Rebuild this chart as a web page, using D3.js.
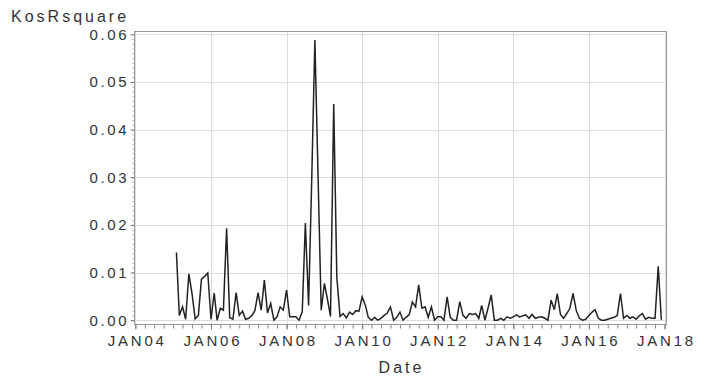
<!DOCTYPE html>
<html>
<head>
<meta charset="utf-8">
<script src="https://cdn.jsdelivr.net/npm/d3@7"></script>
<style>
  body { margin: 0; background: #fff; }
  text { font-family: "Liberation Sans", Arial, sans-serif; fill: #333; }
</style>
</head>
<body>
<div id="chart"></div>
<script>
// monthly series, Feb 2005 .. Dec 2017
const startMonth = "2005-02";
const kosRsquare = [
  0.0142, 0.0010, 0.0028, 0.0002, 0.0097, 0.0057, 0.0003, 0.0010, 0.0086, 0.0092, 0.0099,
  0.0002, 0.0057, 0.0000, 0.0025, 0.0021, 0.0193, 0.0005, 0.0002, 0.0058, 0.0010, 0.0019, 0.0002,
  0.0004, 0.0010, 0.0020, 0.0058, 0.0021, 0.0084, 0.0015, 0.0035, 0.0000, 0.0007, 0.0028, 0.0021,
  0.0063, 0.0007, 0.0007, 0.0007, 0.0000, 0.0018, 0.0204, 0.0031, 0.0300, 0.0588, 0.0300, 0.0021,
  0.0077, 0.0042, 0.0008, 0.0454, 0.0090, 0.0008, 0.0014, 0.0005, 0.0017, 0.0012, 0.0020, 0.0019,
  0.0049, 0.0031, 0.0006, 0.0000, 0.0006, 0.0000, 0.0004, 0.0010, 0.0015, 0.0028, 0.0000, 0.0006,
  0.0017, 0.0000, 0.0006, 0.0012, 0.0038, 0.0028, 0.0074, 0.0025, 0.0028, 0.0006, 0.0028, 0.0000,
  0.0007, 0.0007, 0.0000, 0.0049, 0.0006, 0.0000, 0.0000, 0.0039, 0.0010, 0.0004, 0.0014, 0.0012,
  0.0014, 0.0004, 0.0031, 0.0000, 0.0025, 0.0053, 0.0000, 0.0000, 0.0004, 0.0000, 0.0007, 0.0004,
  0.0007, 0.0011, 0.0007, 0.0009, 0.0011, 0.0004, 0.0012, 0.0004, 0.0006, 0.0007, 0.0004, 0.0000,
  0.0042, 0.0022, 0.0056, 0.0012, 0.0004, 0.0014, 0.0025, 0.0056, 0.0020, 0.0004, 0.0000, 0.0002,
  0.0010, 0.0017, 0.0022, 0.0004, 0.0000, 0.0000, 0.0002, 0.0004, 0.0006, 0.0010, 0.0056, 0.0004,
  0.0010, 0.0004, 0.0007, 0.0002, 0.0009, 0.0014, 0.0002, 0.0006, 0.0004, 0.0004, 0.0113, 0.0001
];
const yTicks = [0, 0.01, 0.02, 0.03, 0.04, 0.05, 0.06];
const yLabel = "KosRsquare";
const xLabel = "Date";

const parseMonth = d3.timeParse("%Y-%m");
const t0 = parseMonth(startMonth);
const data = kosRsquare.map((v, i) => ({ date: d3.timeMonth.offset(t0, i), value: v }));

const W = 705, H = 379;
const plot = { left: 134, right: 666, top: 31, bottom: 324 };

const svg = d3.select("#chart").append("svg")
  .attr("width", W).attr("height", H);

const x = d3.scaleTime()
  .domain([new Date(2003, 11, 19), new Date(2018, 0, 15)])
  .range([plot.left, plot.right]);

const y = d3.scaleLinear()
  .domain([-0.0008, 0.0607])
  .range([plot.bottom, plot.top]);

const majorX = d3.timeYear.every(2).range(new Date(2004, 0, 1), new Date(2018, 0, 2));
const minorX = d3.timeMonth.every(3).range(new Date(2004, 0, 1), new Date(2018, 0, 2));

// grid
svg.append("g").selectAll("line").data(yTicks).join("line")
  .attr("x1", plot.left).attr("x2", plot.right)
  .attr("y1", d => Math.round(y(d)) + 0.5).attr("y2", d => Math.round(y(d)) + 0.5)
  .attr("stroke", "#dcdcdc");
svg.append("g").selectAll("line").data(majorX).join("line")
  .attr("x1", d => Math.round(x(d)) + 0.5).attr("x2", d => Math.round(x(d)) + 0.5)
  .attr("y1", plot.top).attr("y2", plot.bottom)
  .attr("stroke", "#dcdcdc");

// frame
svg.append("rect")
  .attr("x", plot.left + 0.5).attr("y", plot.top + 0.5)
  .attr("width", plot.right - plot.left).attr("height", plot.bottom - plot.top)
  .attr("fill", "none").attr("stroke", "#999");

// x axis
const fmtX = d => d3.timeFormat("%b%y")(d).toUpperCase();
const xAxis = svg.append("g")
  .attr("transform", `translate(0,${plot.bottom + 0.5})`)
  .call(d3.axisBottom(x).tickValues(minorX).tickSize(4).tickFormat(""));
xAxis.select(".domain").remove();
xAxis.selectAll(".tick line").attr("stroke", "#888");

const xMajor = svg.append("g")
  .attr("transform", `translate(0,${plot.bottom + 0.5})`)
  .call(d3.axisBottom(x).tickValues(majorX).tickSize(5).tickPadding(6).tickFormat(fmtX));
xMajor.select(".domain").remove();
xMajor.selectAll(".tick line").attr("stroke", "#777");
xMajor.selectAll("text")
  .attr("font-size", 15).attr("letter-spacing", 2.8).attr("dx", 1.4)
  .style("font-family", "Liberation Sans, Arial, sans-serif").attr("fill", "#333");

// y axis
const minorY = d3.range(0, 0.0605, 0.001);
const yMinor = svg.append("g")
  .attr("transform", `translate(${plot.left + 0.5},0)`)
  .call(d3.axisLeft(y).tickValues(minorY).tickSize(2).tickFormat(""));
yMinor.select(".domain").remove();
yMinor.selectAll(".tick line").attr("stroke", "#aaa");

const yAxis = svg.append("g")
  .attr("transform", `translate(${plot.left + 0.5},0)`)
  .call(d3.axisLeft(y).tickValues(yTicks).tickSize(4).tickPadding(4).tickFormat(d3.format(".2f")));
yAxis.select(".domain").remove();
yAxis.selectAll(".tick line").attr("stroke", "#777");
yAxis.selectAll("text")
  .attr("font-size", 15).attr("letter-spacing", 2.6).attr("dx", 2.6)
  .style("font-family", "Liberation Sans, Arial, sans-serif").attr("fill", "#333");

// series
const line = d3.line().x(d => x(d.date)).y(d => y(d.value));
svg.append("path")
  .datum(data)
  .attr("d", line)
  .attr("fill", "none")
  .attr("stroke", "#222")
  .attr("stroke-width", 1.5)
  .attr("stroke-linejoin", "miter");

// labels
svg.append("text")
  .attr("x", 11).attr("y", 22)
  .attr("font-size", 16).attr("letter-spacing", 3)
  .text(yLabel);
svg.append("text")
  .attr("x", (plot.left + plot.right) / 2 + 1.5).attr("y", 373)
  .attr("text-anchor", "middle")
  .attr("font-size", 16).attr("letter-spacing", 3)
  .text(xLabel);
</script>
</body>
</html>
